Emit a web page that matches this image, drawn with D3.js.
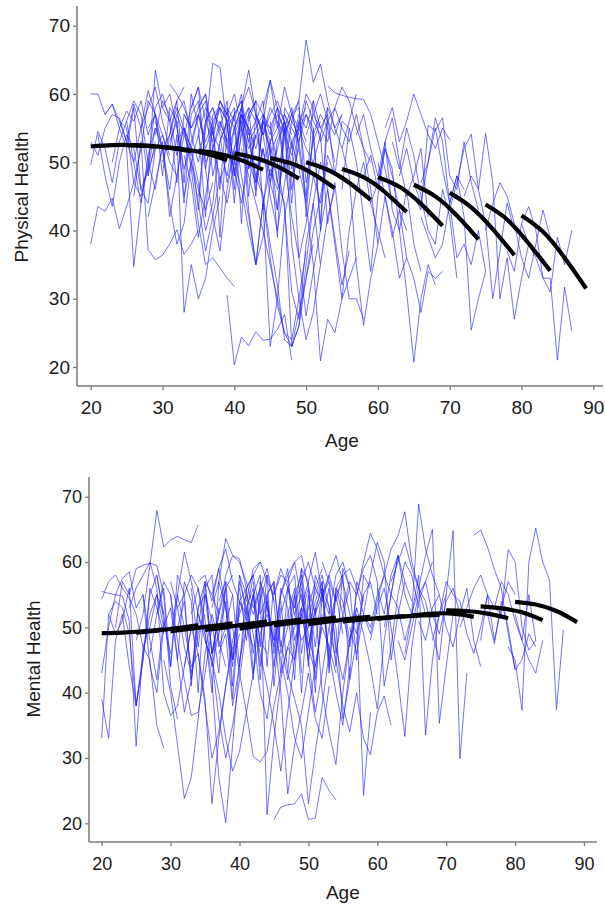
<!DOCTYPE html>
<html><head><meta charset="utf-8">
<script src="https://cdn.jsdelivr.net/npm/d3@7"></script>
<style>
body{margin:0;background:#fff}
svg{display:block}
text{font-family:Arial,"Liberation Sans",sans-serif;fill:#1a1a1a}
</style>
</head><body>
<svg id="c" width="605" height="907"></svg>
<script>
// ---------- shared ticks ----------
const ageTicks = [20, 30, 40, 50, 60, 70, 80, 90];
const healthTicks = [20, 30, 40, 50, 60, 70];

// ---------- Physical health: individual trajectories (start age, yearly values) ----------
const physStarts = [20,20,20,20,21,22,23,24,25,26,27,28,28,29,29,30,31,32,33,33,34,35,35,36,37,38,39,38,
  40,40,41,42,42,43,44,44,45,46,47,48,48,49,50,45,51,52,53,55,55,57,58,60,59,62,63,65,66,66,70,72,75,78,80,61,
  28,30,31,32,33,34,36,37,38,39,40,41,42,43,44,45,46,47,25,35,43,41];
const physValues = [
  [38,43.5,42.8,44.7,40.3,43.5,47,45,49,52],
  [60,60,57,58.5,55,57.5,56,59,54,57],
  [49.6,54.5,52,47,53,56,50,44,51,55],
  [53,51,55,57,56.5,53,58.5,55,48,53],
  [54,48,43.5,50,54,52,46,49,55,52],
  [57,58.5,56,53,50,55,60.5,57,54,51],
  [50,55,52,58,46,44,52,54,50,48],
  [56,55,47,52,59,57,52,54,59,61],
  [52,34.7,44,50,46,53,42,48,54,51],
  [45,53,37.2,35.7,36.4,38,40.1,36.5,38,40],
  [55,58,61,56,52,57,59,54,50,56],
  [48,63.5,58,60,55,49,53,57,52,55],
  [42,47,52,44,38,41,50,46,43,47],
  [54,59,57,51,55,50,44,37,42,48],
  [56,52,46,54,28,35,30,33,40,45],
  [50,54,58,55,52,47,40,44,53,56],
  [61.5,60,58,55,57,53,56,58,52,49],
  [53,55,49,41,35,36,34.5,33,31.8],
  [57,55,58,60,54,52,48,55,57,53],
  [51,47,39,45,52,56,53,49,44,50],
  [58,61,56,53,59,57,60,55,52,54],
  [45,55,64.5,63.9,55,50,57,49,54,51],
  [54,49,42,37,46,52,55,50,47,52],
  [56,58,55,52,57,59,54,56,50,53],
  [52,48,44,50,56,43,35,39,47,52],
  [59,57,55,58,53,55,57,51,54,56],
  [30.5,20.3,24.4,23.1,25.2,23.9,24.1,25.5,27.7,21],
  [47,51,55,48,42,35,44,49,46,50],
  [55,58,63.5,57,54,48,52,56,53,55],
  [50,46,40,35,44,23,30,42,48,52],
  [57,55,52,56,62,58,54,51,56,53],
  [53,48,45,36,29,25,23,28,33,38],
  [56,59,57,54,58,56,52,57,55,59],
  [48,52,47,43,55,38,30,24,28,35],
  [58,62,55,61,57,53,59,56,54,58],
  [52,45,40,47,53,36,41,48,44,50],
  [55,50,43,31,27,38,44,35,42,46],
  [56,54,57,55,60,58,53,56,54,57],
  [50,42,36,27.5,34,40,46,39,32,37],
  [57,59,67.9,61.7,64.4,59,55,52,56,60],
  [53,49,44,35,20.9,27,25,30,33,36],
  [55,52,50,54,41,47,37,30,30,27],
  [54,57,60,56,58,55,53,57,52,50],
  [53,47,44,23,26,33,40,45,51,48],
  [57,55,53,58,61,59,55,52,46,38],
  [50,46,38,30,40,46,50,44,40,36],
  [61.2,60.2,59.8,59.5,59.3,59.2,57,53,49,44],
  [52,48,35,26.1,33,38,45,40,33,36],
  [46,55,50,42,34,45,52,48,43,40],
  [54,57,52,48,53,43,40,46,38,34],
  [48,51,46,53,56.5,50,45,48,52,42],
  [50,45,39,43,36,33,28,34,33,34],
  [44,47,52,49,40,31,20.7,30,35,32],
  [53,49,55,51,45,40,38,46,42,33],
  [48,52,47,44,50,55,49,44,48,46],
  [45,43,55.4,54.6,56.5,48,46,53,47,43],
  [47,50,56.5,53,44,36,38,35,40,34],
  [42,39,36,38,44,48,42,25.4,30,34],
  [43,47,52,54.1,46,41,30,37,44,40],
  [45,48,46,54.2,47,30,36,27,33,38],
  [40,44,47,45,41,36,33,38,43,39],
  [37,34,41,43.5,40,33,31,39,35,40],
  [41,38,36,33,33,21,31.7,25.3],
  [55,58,53,56,60,57,54,52,55,53.3],
  [55,57,48,58,56,44,57,59,50,52],
  [58,56,59,47,60,55,42,57,58,56],
  [53,56,45,50,54,58,56,39,55,57],
  [57,54,58,61,49,55,59,56,46,58],
  [55,52,43,56,58,54,47,52,57,55],
  [52,57,59,48,53,56,58,41,57,59],
  [57,55,46,58,56,60,49,54,56,55],
  [54,58,56,44,55,58,56,59,47,53],
  [56,53,57,59,45,57,54,58,56,49],
  [58,48,54,57,59,43,53,55,57,54],
  [54,57,55,46,56,52,39,58,56,54],
  [56,58,47,56,53,57,55,44,56,58],
  [55,45,57,55,58,49,56,59,42,55],
  [57,55,52,43,54,57,58,47,53,56],
  [54,57,59,56,46,53,57,55,40,56],
  [56,47,55,58,52,44,54,57,55,50],
  [53,56,49,55,57,54,41,58,55,57],
  [57,55,53,45,59,55,57,48,56,55],
  [56,59,57,50,58,60,56,47,57,55],
  [58,60,52,55,59,48,58,61,57,54],
  [50,45,38,32,24,23,26,35,44,50],
  [52,48,44,40,35,30,25,24,30,37]
];
// cohort curves (ages start, +3, +6, +9)
const physCohortStarts = [20,25,30,35,40,45,50,55,60,65,70,75,80];
const physCohortValues = [
  [52.3,52.5,52.5,52.3],
  [52.5,52.4,52.1,51.6],
  [52.2,51.9,51.3,50.3],
  [51.7,51.2,50.3,48.9],
  [51.3,50.6,49.4,47.6],
  [50.6,49.8,48.3,46.2],
  [50.0,48.9,47.0,44.5],
  [49.0,47.8,45.6,42.7],
  [47.8,46.4,43.9,40.7],
  [46.7,45.0,42.2,38.7],
  [45.5,43.4,40.2,36.4],
  [43.8,41.6,38.1,34.1],
  [42.2,39.8,36.0,31.5]
];

// ---------- Mental health ----------
const mentStarts = [20,20,20,20,20,21,22,24,25,26,27,28,29,30,30,31,32,33,34,35,36,37,36,39,40,41,42,43,45,44,
  45,46,47,47,48,49,50,51,52,53,54,55,56,57,58,59,60,61,62,63,64,66,68,72,74,75,76,79,77,80,
  28,30,31,33,34,35,37,38,40,41,42,43,44,46,47,48,49,45,36,50];
const mentValues = [
  [33,52,49,51,56,38,46,52,55,50],
  [43,50,55,57.5,58.5,53,55,48,42,51],
  [54.3,57,58,56,54.5,52,47,45,35,31.5],
  [55.5,55.2,55,54.8,51,31.8,47,50,55,52],
  [39,33,48,52,44,38,45,56,53,49],
  [52,54,53,49,38,45,55,58,51,46],
  [50,57,55,59,59.5,59.8,59.5,55,41,36],
  [53,56,58,60,56,40,36.5,38,44,50],
  [48,52,59.5,67.9,62.3,63.4,63.9,63.4,63,65.7],
  [55,44,40,50,53,45,37,42,49,52],
  [46,52,57,55,48,42,36.5,37,43,50],
  [58,52,44,55,61.5,57,52,48,45,53],
  [45,40,32,23.8,27,36,46,52,48,44],
  [49,55,50,44,46,38,30,34,41,47],
  [57,53,55,58,56,51,44,49,56,58],
  [53,47,43,50,57,55,59,53,45,49],
  [44,50,46,39,23,33,41,48,52,55],
  [52,56,49,42,27,20.1,32,45,50,47],
  [57,58,54,59,62,57,54,52,58,60],
  [48,45,36,30,35,42,50,55,48,46],
  [55,52,58,61,60,57,53,56,59,54],
  [46,49,38,44,53,49,40,36,44,51],
  [53,57,63.6,61,60.5,56,58,52,55,57],
  [50,43,37,30.2,29.4,31,38,43,47,45],
  [58,55,52,56,21.3,33,42,47,50,53],
  [54,59,60,57,55,59,56,52,48,50],
  [51,46,41,35,28,37,45,52,47,43],
  [57,53,48,55,58,60,54,51,56,59],
  [20.6,22.5,22.8,23,24.5,20.6,20.8,27,25,23.6],
  [53,49,40,24.5,32,37,43,36,33,41],
  [55,58,57,60,61,56,52,55,58,54],
  [48,42,47,53,45,37,43,50,55,49],
  [56,53,59,57,61.5,55,52,58,60,56],
  [43,39,35,23,31,38,46,40,35,44],
  [52,55,49,44,51,56,47,42,48,53],
  [57,60,56,54,58,61,57,52,49,55],
  [47,53,40,34,29,40,48,52,24.3,37],
  [55,58,53,50,36,42,48,55,57,52],
  [60,57,54,58,59,56,52,50,55,58],
  [50,45,38,34,40,33,30.5,37,39.5,35],
  [56,52,47,53,49,44,37.5,48,55,61],
  [53,57,55,60,64.4,62,58,55,61,57],
  [50,46,52,58,63,60,45,52,57,54],
  [55,59,61,57,41,47,55,60,58,53],
  [52,49,54,58,62,64,67.7,60,56,52],
  [48,53,56,50,42,33.3,47,54,57,60],
  [56,52,58,61,55,52,68.9,62,58,55],
  [50,55,53,48,52,58,33.5,45,52,55],
  [57,60,63,59,56,61,65,35.3,44,52],
  [48,45,50,55,57,52,49,54,56,52],
  [46,52,56,54,49,45,55,64.8,29.9,43],
  [51,48,53,55,50,47,52,56,48,44],
  [48,52,57,55,54,49,46,50,55],
  [50,53,56,58,55,48,53,57,55],
  [64.1,64.9,62.3,58.8,56,49,43.5],
  [48,55,53,52,61.9,60,50,46.5,48],
  [52,47.5,54,50,43.5,45,49,47],
  [47,45,37.3,60,65.2,60,57.2,37.4,49.6],
  [53,57,55,51,48,45,43,48],
  [52,48,55,48],
  [52,56,44,58,55,41,53,57,46,52],
  [55,45,57,54,40,56,58,47,50,55],
  [50,54,42,53,55,46,49,54,39,53],
  [56,47,55,51,43,57,55,44,56,58],
  [52,49,40,57,53,45,54,56,43,55],
  [57,46,52,56,41,54,51,55,44,54],
  [54,57,45,58,52,42,57,54,47,53],
  [51,44,57,53,46,54,58,41,52,56],
  [56,48,55,58,44,57,47,52,56,43],
  [53,56,42,55,57,46,50,55,40,55],
  [57,47,58,54,43,56,58,46,53,57],
  [50,54,44,55,59,45,53,57,42,52],
  [55,46,56,53,42,59,50,54,57,45],
  [54,43,55,58,47,53,56,44,55,57],
  [57,48,52,56,40,55,57,46,52,56],
  [53,57,45,52,57,43,56,54,48,55],
  [56,44,58,55,46,56,58,42,57,54],
  [50,45,40,33,30,37,44,50,47,43],
  [45,40,33,28,31,37,43,49,52,48],
  [55,47,56,53,44,59,56,45,58,56]
];
const mentCohortStarts = [20,25,30,35,40,45,50,55,60,65,70,75,80];
const mentCohortValues = [
  [49.1,49.2,49.4,49.7],
  [49.2,49.5,49.9,50.3],
  [49.4,49.8,50.2,50.6],
  [49.6,50.0,50.5,50.9],
  [49.8,50.3,50.8,51.2],
  [50.3,50.7,51.1,51.5],
  [50.5,50.9,51.3,51.6],
  [50.9,51.2,51.5,51.7],
  [51.3,51.6,51.8,51.9],
  [51.8,52.1,52.1,51.6],
  [52.6,52.5,52.1,51.4],
  [53.2,52.9,52.3,51.1],
  [53.9,53.5,52.5,50.8]
];
const cohortOffsets = [0, 3, 6, 9];

const svg = d3.select('#c');

function panel(cfg) {
  const g = svg.append('g');
  const x = d3.scaleLinear().domain([20, 90]).range(cfg.xr);
  const y = d3.scaleLinear().domain([20, 70]).range(cfg.yr);
  const line = d3.line().x(d => x(d[0])).y(d => y(d[1]));

  // individual trajectories
  g.append('g').selectAll('path').data(cfg.values).join('path')
    .attr('d', (vals, i) => line(vals.map((v, j) => [cfg.starts[i] + j, v])))
    .attr('fill', 'none').attr('stroke', '#1f1fff').attr('stroke-opacity', 0.62)
    .attr('stroke-width', 1).attr('stroke-linejoin', 'round');

  // cohort curves
  const curve = d3.line().x(d => x(d[0])).y(d => y(d[1])).curve(d3.curveNatural);
  g.append('g').selectAll('path').data(cfg.cValues).join('path')
    .attr('d', (vals, i) => curve(vals.map((v, j) => [cfg.cStarts[i] + cohortOffsets[j], v])))
    .attr('fill', 'none').attr('stroke', '#000').attr('stroke-width', 4.2);

  // axes
  const ax = g.append('g').attr('transform', `translate(0,${cfg.axisY})`)
    .call(d3.axisBottom(x).tickValues(ageTicks).tickSize(4).tickPadding(11).tickSizeOuter(0));
  const ay = g.append('g').attr('transform', `translate(${cfg.axisX},0)`)
    .call(d3.axisLeft(y).tickValues(healthTicks).tickSize(4).tickPadding(3).tickSizeOuter(0));
  [ax, ay].forEach(a => {
    a.select('.domain').remove();
    a.selectAll('line').attr('stroke', '#7a7a7a').attr('stroke-width', 1.3);
    a.selectAll('text').attr('font-size', cfg.tickFont).attr('fill', '#1a1a1a')
      .attr('font-family', 'Arial, "Liberation Sans", sans-serif');
  });
  g.append('line').attr('x1', cfg.axisX).attr('x2', cfg.axisX)
    .attr('y1', cfg.axisTop).attr('y2', cfg.axisY)
    .attr('stroke', '#7a7a7a').attr('stroke-width', 1.5);
  g.append('line').attr('x1', cfg.axisX).attr('x2', cfg.axisRight)
    .attr('y1', cfg.axisY).attr('y2', cfg.axisY)
    .attr('stroke', '#7a7a7a').attr('stroke-width', 1.5);

  g.append('text').attr('x', (cfg.xr[0] + cfg.xr[1]) / 2).attr('y', cfg.xTitleY)
    .attr('text-anchor', 'middle').attr('font-size', cfg.titleFont).text('Age');
  g.append('text').attr('transform', `translate(${cfg.yTitleX},${cfg.yTitleY}) rotate(-90)`)
    .attr('text-anchor', 'middle').attr('dy', '0.35em').attr('font-size', cfg.titleFont).text(cfg.yTitle);
}

panel({
  xr: [90.7, 593.3], yr: [367, 25.7], axisX: 77, axisY: 386, axisTop: 6, axisRight: 603,
  tickFont: 19, titleFont: 19, xTitleY: 447, yTitleX: 21, yTitleY: 197, yTitle: 'Physical Health',
  starts: physStarts, values: physValues, cStarts: physCohortStarts, cValues: physCohortValues
});
panel({
  xr: [101.7, 584], yr: [823.3, 496.7], axisX: 89, axisY: 842, axisTop: 477, axisRight: 597,
  tickFont: 18, titleFont: 19, xTitleY: 899, yTitleX: 33, yTitleY: 659, yTitle: 'Mental Health',
  starts: mentStarts, values: mentValues, cStarts: mentCohortStarts, cValues: mentCohortValues
});
</script>
</body></html>
